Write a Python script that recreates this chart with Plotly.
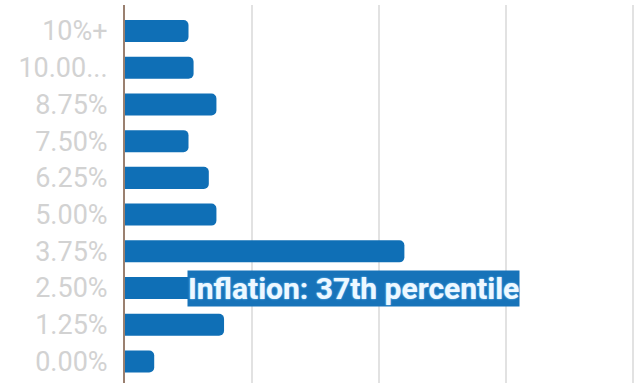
import plotly.graph_objects as go

categories = ["0.00%", "1.25%", "2.50%", "3.75%", "5.00%", "6.25%", "7.50%", "8.75%", "10.00...", "10%+"]
values = [2.3, 7.8, 29.5, 22.0, 7.2, 6.6, 5.0, 7.2, 5.4, 5.0]
label_text = "Inflation: 37th percentile"
label_category = "2.50%"

BLUE = "#0f6fb6"

fig = go.Figure()
fig.add_trace(go.Bar(
    x=values, y=categories, orientation="h",
    marker=dict(color=BLUE, cornerradius=5, line=dict(width=0)),
    hoverinfo="skip",
))

fig.add_annotation(
    x=4.9, y=label_category, xref="x", yref="y",
    xanchor="left", yanchor="middle",
    text=label_text, showarrow=False,
    font=dict(family="Roboto", size=30, color="#eef8ff", weight=700,
              shadow="0 0 2px #6fbdf0, 0 0 1px #6fbdf0"),
    bgcolor="#1773b9", borderpad=0,
)

fig.update_layout(
    width=635, height=383,
    margin=dict(l=125, r=0, t=5, b=0),
    paper_bgcolor="white", plot_bgcolor="white",
    showlegend=False,
    bargap=0.4,
    font=dict(family="Roboto"),
    xaxis=dict(
        range=[0, 40.16], tickvals=[0, 10, 20, 30, 40], showticklabels=False,
        showgrid=True, gridcolor="#e2e2e2", gridwidth=2, zeroline=False,
        showline=False, fixedrange=True,
    ),
    yaxis=dict(
        type="category", categoryorder="array", categoryarray=categories,
        range=[-0.586, 9.708], showgrid=False, zeroline=False,
        showline=True, linecolor="#9a8070", linewidth=2,
        ticks="", ticklabelstandoff=10,
        tickfont=dict(family="Roboto", size=27, color="#d2d2d2"),
    ),
)

fig.write_html("out.html")
